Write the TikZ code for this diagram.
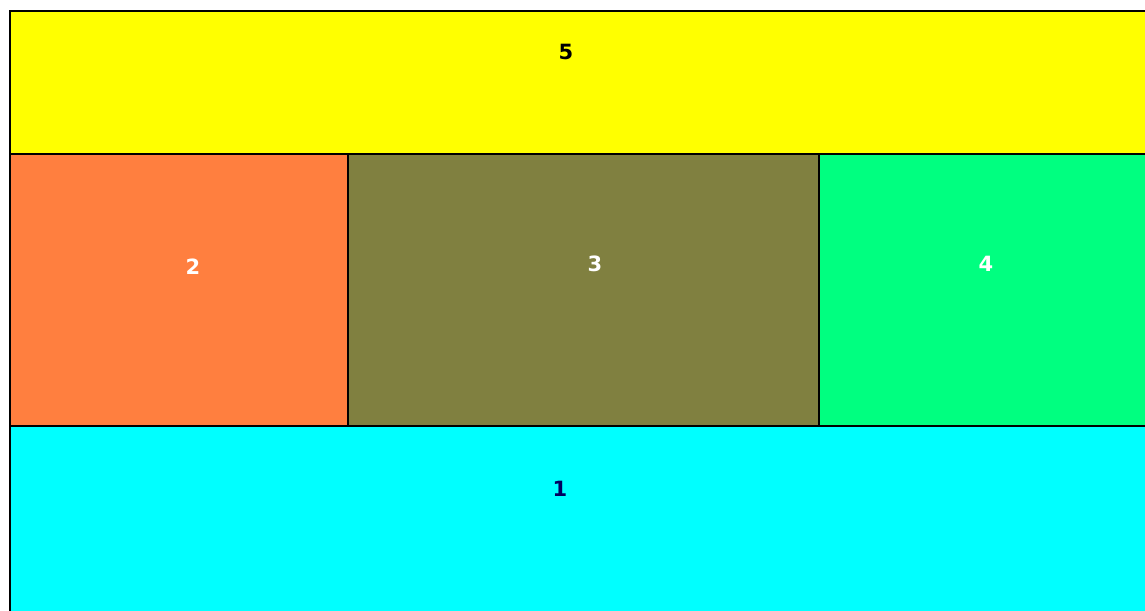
\documentclass[tikz,border=0pt]{standalone}
\usepackage{fontspec}
\setmainfont{DejaVu Sans}
\definecolor{cyellow}{HTML}{FFFF00}
\definecolor{corange}{HTML}{FF7F3F}
\definecolor{colive}{HTML}{808040}
\definecolor{cgreen}{HTML}{00FF80}
\definecolor{ccyan}{HTML}{00FFFF}
\definecolor{cnavy}{HTML}{000060}
\begin{document}
\begin{tikzpicture}[x=1pt,y=-1pt,
  panel/.style={draw=black, line width=2pt, anchor=north west, inner sep=0pt},
  lbl/.style={font=\fontsize{21}{21}\selectfont\bfseries},
]
\useasboundingbox[fill=white] (0,0) rectangle (1145,610);
\node[panel, fill=ccyan, minimum width=1150pt, minimum height=200pt] (p1) at (9,425) {};
\node[panel, fill=cyellow, minimum width=1150pt, minimum height=143pt] (p5) at (9,10) {};
\node[panel, fill=corange, minimum width=338pt, minimum height=272pt] (p2) at (9,153) {};
\node[panel, fill=colive, minimum width=471pt, minimum height=272pt] (p3) at (347,153) {};
\node[panel, fill=cgreen, minimum width=340pt, minimum height=272pt] (p4) at (818,153) {};
\node[lbl, text=black] (t5) at (566,52) {5};
\node[lbl, text=white] (t2) at (193,267) {2};
\node[lbl, text=white] (t3) at (595,264) {3};
\node[lbl, text=white] (t4) at (986,264) {4};
\node[lbl, text=cnavy] (t1) at (560,489) {1};
\end{tikzpicture}
\end{document}
